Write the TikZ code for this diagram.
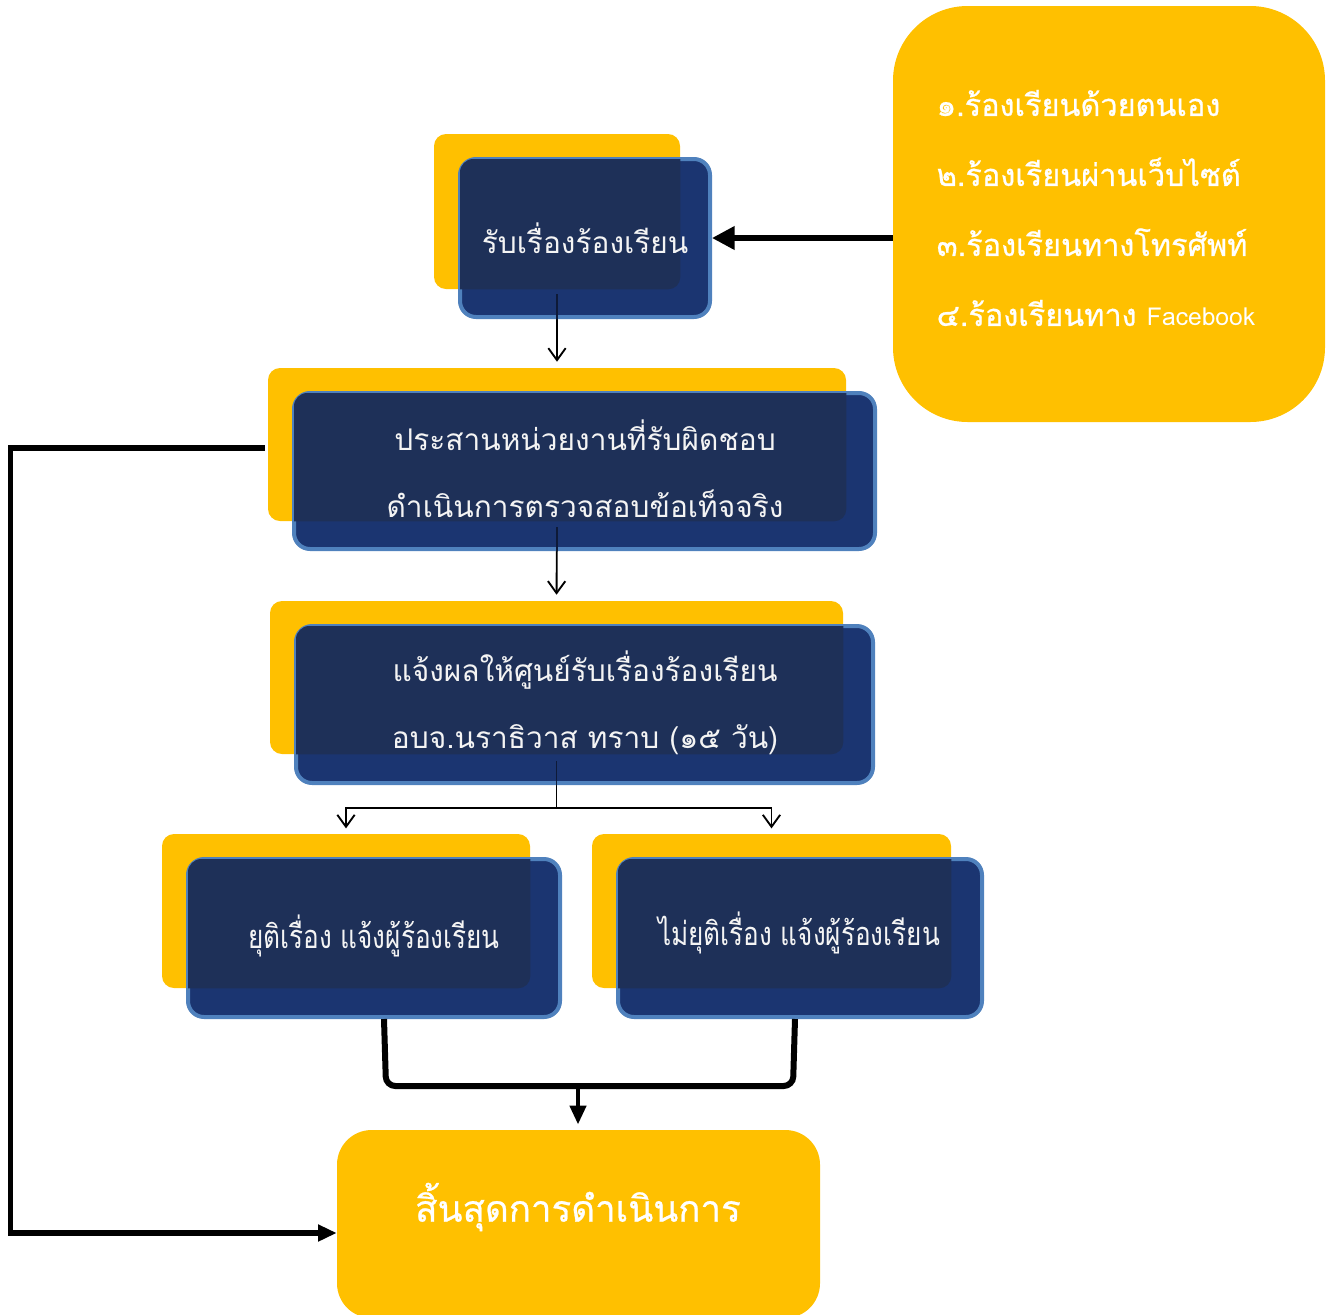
\documentclass[tikz,border=0pt]{standalone}
\usepackage{fontspec}
\newfontfamily\thai[Script=Thai]{Loma}
\newfontfamily\thaib[Script=Thai,FakeBold=0.7]{Loma}
\newfontfamily\thaicond[Script=Thai,FakeStretch=0.8]{Loma}
\usetikzlibrary{arrows.meta,calc}
\definecolor{ybox}{HTML}{FFC000}
\definecolor{navy}{HTML}{1B3571}
\definecolor{navyd}{HTML}{1E3058}
\definecolor{navyl}{HTML}{0E1A38}
\definecolor{bord}{HTML}{4F81BD}
\definecolor{txt}{HTML}{F4F4F4}
\tikzset{
  back/.style={fill=ybox, rounded corners=9pt, inner sep=0pt},
  front/.style={fill=navy, draw=bord, line width=3pt, rounded corners=12pt, inner sep=0pt},
  lbl/.style={text=txt, font=\thai\fontsize{22.4}{50}\selectfont, align=center},
  thin/.style={line width=1.4pt, -{Straight Barb[length=9pt,width=13pt,line width=1.4pt]}},
  fat/.style={line width=3.8pt, -{Triangle[length=17pt,width=17pt]}},
}
\begin{document}
\begin{tikzpicture}[x=0.75pt,y=-0.75pt]
\useasboundingbox (0,0) rectangle (1328,1314);
% yellow backs
\node[back, minimum width=184.5pt, minimum height=116.25pt] (y1) at (557,211.5) {};
\node[back, minimum width=433.5pt, minimum height=114.75pt] (y2) at (557,444.5) {};
\node[back, minimum width=429.75pt, minimum height=114.75pt] (y3) at (556.5,677.5) {};
\node[back, minimum width=276pt, minimum height=115.5pt] (y4) at (346,911) {};
\node[back, minimum width=269.25pt, minimum height=115.5pt] (y5) at (771.5,911) {};
\node[fill=ybox, rounded corners=26pt, minimum width=362.25pt, minimum height=141pt, inner sep=0pt] (end) at (578.5,1224) {};
\node[fill=ybox, rounded corners=56pt, minimum width=324pt, minimum height=312pt, inner sep=0pt] (src) at (1109,214) {};
% thin connectors
\draw[thin, shorten >=4.5pt] (y1.south) -- (y2.north);
\draw[thin, shorten >=4.5pt] (y2.south) -- (y3.north);
\coordinate (sp) at ($(y3.south)+(0,54)$);
\draw[line width=1.4pt] (y3.south) -- (sp);
\draw[thin, shorten >=4pt] (sp) -| (y4.north);
\draw[thin, shorten >=4pt] (sp) -| (y5.north);
% blue fronts
\node[front, minimum width=187.5pt, minimum height=118.5pt] (b1) at (585,238) {};
\node[front, minimum width=435.75pt, minimum height=117pt] (b2) at (584.5,471) {};
\node[front, minimum width=432.75pt, minimum height=117.75pt] (b3) at (584.5,704.5) {};
\node[front, minimum width=279pt, minimum height=118.5pt] (b4) at (374,938) {};
\node[front, minimum width=273pt, minimum height=118.5pt] (b5) at (800,938) {};
% overlap shading
\foreach \y/\b in {y1/b1,y2/b2,y3/b3,y4/b4,y5/b5}{
  \begin{scope}
    \clip[rounded corners=9pt] (\y.south west) rectangle (\y.north east);
    \fill[navyd, rounded corners=10pt] ([shift={(1.5pt,-1.5pt)}]\b.north west) rectangle ([shift={(-1.5pt,1.5pt)}]\b.south east);
  \end{scope}
}
% connector parts seen through the blue boxes
\draw[navyl, line width=1.4pt] ($(y1.south)+(0,5)$) -- (y1.south |- b1.south);
\draw[navyl, line width=1.4pt] ($(y2.south)+(0,6)$) -- (y2.south |- b2.south);
\draw[navyl, line width=1.4pt] ($(y3.south)+(0,7)$) -- (y3.south |- b3.south);
% texts
\node[lbl] at (585,238) {รับเรื่องร้องเรียน};
\node[lbl] at (585,469) {ประสานหน่วยงานที่รับผิดชอบ\\ดำเนินการตรวจสอบข้อเท็จจริง};
\node[lbl] at (585,703) {แจ้งผลให้ศูนย์รับเรื่องร้องเรียน\\อบจ.นราธิวาส ทราบ (๑๕ วัน)};
\node[lbl, font=\thaicond\fontsize{24.5}{30}\selectfont] at (374,936) {ยุติเรื่อง แจ้งผู้ร้องเรียน};
\node[lbl, font=\thaicond\fontsize{24.5}{30}\selectfont] at (799,933) {ไม่ยุติเรื่อง แจ้งผู้ร้องเรียน};
\node[text=white, font=\thaib\fontsize{27.5}{36}\selectfont] (endt) at (578,1207) {สิ้นสุดการดำเนินการ};
\node[text=white, anchor=west, align=left, font=\thaib\fontsize{23}{52.5}\selectfont] (srct) at (932,208)
  {๑.ร้องเรียนด้วยตนเอง\\๒.ร้องเรียนผ่านเว็บไซต์\\๓.ร้องเรียนทางโทรศัพท์\\๔.ร้องเรียนทาง {\thai\fontsize{18.5}{20}\selectfont Facebook}};
% thick connectors
\draw[fat] (b1.east -| src.west) -- (b1.east);
\coordinate (m4) at ($(b4.south)+(10,0)$);
\coordinate (m5) at ($(b5.south)+(-5,0)$);
\coordinate (mj) at (578,1086);
\draw[line width=4.5pt, rounded corners=7pt] (m4) -- ++(2,67) -- ($(m5)+(-2,67)$) -- (m5);
\draw[line width=3pt, -{Triangle[length=14pt,width=12pt]}, shorten >=4pt] (mj) -- (end.north -| mj);
\draw[fat, -{Triangle[length=14pt,width=12pt]}] ($(y2.west)+(-3,3.5)$) -- ++(-254,0) |- ($(end.west)+(0,9)$);
\end{tikzpicture}
\end{document}
